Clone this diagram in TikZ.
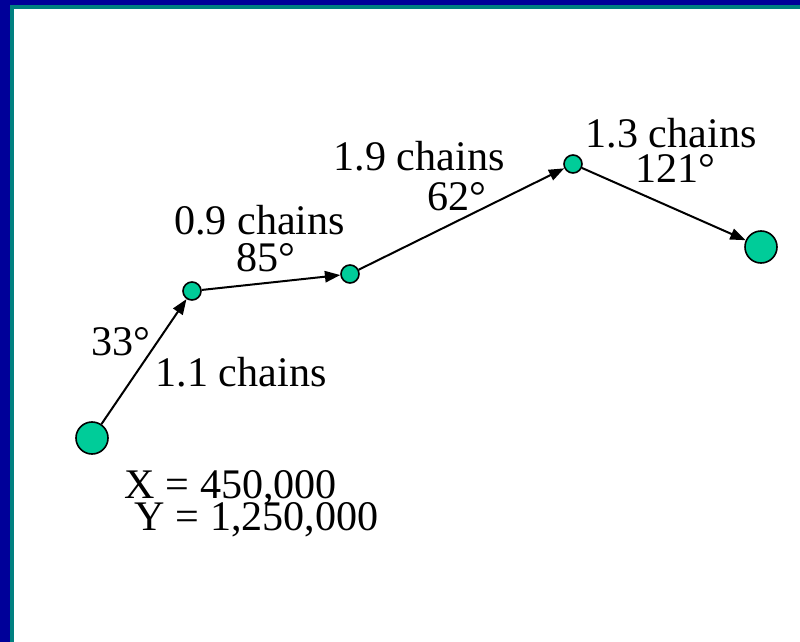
\documentclass[tikz,border=0pt]{standalone}
\usepackage{fontspec}
\setmainfont{Liberation Serif}
\usepackage{tikz}
\usetikzlibrary{arrows.meta}
\definecolor{slideBlue}{HTML}{000099}
\definecolor{slideTeal}{HTML}{008080}
\definecolor{stnFill}{HTML}{00CC99}

\begin{document}
\begin{tikzpicture}[x=0.75pt, y=-0.75pt,
    every node/.style={font=\fontsize{31.6}{33}\selectfont},
    station/.style={circle, draw=black, fill=stnFill, line width=1.2pt, minimum size=13.5pt, inner sep=0pt},
    endpt/.style={station, minimum size=24pt},
    leg/.style={-{Triangle[length=11.5pt,width=8.5pt]}, line width=1.5pt},
    lbl/.style={anchor=base west, inner sep=0pt}]
  \useasboundingbox (0,0) rectangle (800,642);
  % slide frame
  \fill[slideBlue] (0,0) rectangle (800,642);
  \fill[slideTeal] (10,5) rectangle (800,642);
  \fill[white] (14,9) rectangle (800,642);
  % traverse stations
  \node[endpt]   (s0) at (92,438) {};
  \node[station] (s1) at (192,291) {};
  \node[station] (s2) at (350,274) {};
  \node[station] (s3) at (573,164) {};
  \node[endpt]   (s4) at (761,247) {};
  \foreach \a/\b in {s0/s1,s1/s2,s2/s3,s3/s4} {
    \draw[leg] (\a) -- (\b);
  }
  % bearings and distances
  \node[lbl] (b1) at (91.5,355) {33°};
  \node[lbl] (d1) at (155.5,386) {1.1 chains};
  \node[lbl] (d2) at (174,234) {0.9 chains};
  \node[lbl] (b2) at (236,271) {85°};
  \node[lbl] (d3) at (333.5,170) {1.9 chains};
  \node[lbl] (b3) at (427,210) {62°};
  \node[lbl] (d4) at (585.5,147) {1.3 chains};
  \node[lbl] (b4) at (635.5,182) {121°};
  % starting coordinates
  \node[lbl] (cx) at (124.5,498) {X = 450,000};
  \node[lbl] (cy) at (134.5,530) {Y = 1,250,000};
\end{tikzpicture}
\end{document}
